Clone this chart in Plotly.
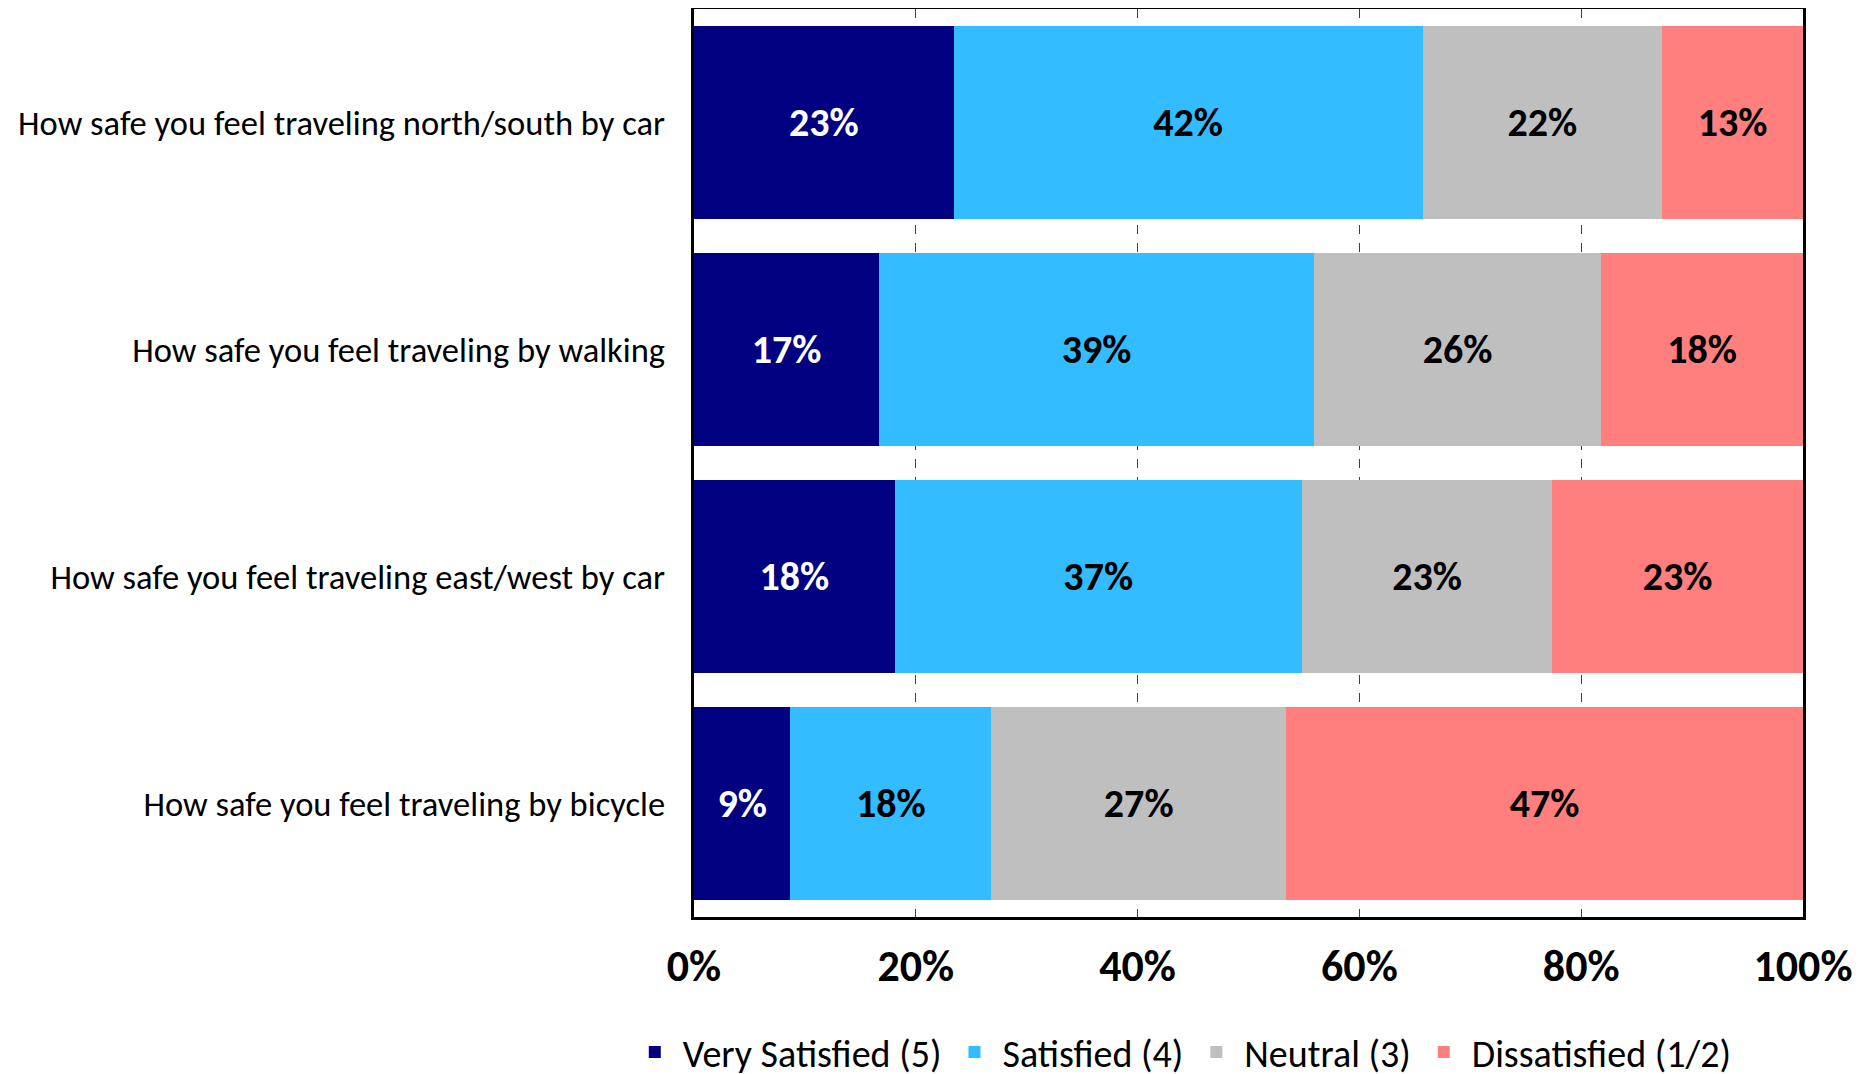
import plotly.graph_objects as go

categories = [
    "How safe you feel traveling north/south by car",
    "How safe you feel traveling by walking",
    "How safe you feel traveling east/west by car",
    "How safe you feel traveling by bicycle",
]
series_names = ["Very Satisfied (5)", "Satisfied (4)", "Neutral (3)", "Dissatisfied (1/2)"]
very_satisfied = [23.4, 16.7, 18.1, 8.7]
satisfied = [42.3, 39.2, 36.7, 18.1]
neutral = [21.6, 25.9, 22.6, 26.6]
dissatisfied = [12.7, 18.2, 22.6, 46.6]
x_ticks = [0, 20, 40, 60, 80, 100]
x_tick_labels = ["0%", "20%", "40%", "60%", "80%", "100%"]

colors = ["#000080", "#33BCFF", "#BFBFBF", "#FF7F7F"]
text_colors = ["white", "black", "black", "black"]
FONT = "Carlito, Calibri, Lato, sans-serif"

fig = go.Figure()
for name, vals, col, tcol in zip(series_names,
                                 [very_satisfied, satisfied, neutral, dissatisfied],
                                 colors, text_colors):
    fig.add_trace(go.Bar(
        y=categories, x=vals, name=name, orientation="h",
        marker=dict(color=col, line=dict(width=0)),
        text=[f"{v:.0f}%" for v in vals],
        textposition="inside", insidetextanchor="middle",
        textfont=dict(family=FONT, size=40, color=tcol, weight="bold"),
        hoverinfo="skip",
    ))

fig.update_layout(
    barmode="stack", bargap=0.15,
    width=1874, height=1074,
    margin=dict(l=686, r=79, t=1, b=165, autoexpand=False),
    plot_bgcolor="white", paper_bgcolor="white",
    font=dict(family=FONT, color="black"),
    uniformtext=dict(mode=False),
    legend=dict(orientation="h", x=-0.0606, xanchor="left", y=-0.149, yanchor="middle",
                font=dict(size=38, family=FONT), traceorder="normal",
                itemwidth=46, itemsizing="constant"),
)
fig.update_xaxes(
    range=[0, 100], tickvals=x_ticks, ticktext=x_tick_labels,
    tickfont=dict(size=44, family=FONT, weight="bold"),
    showgrid=True, gridcolor="#404040", griddash="dash", gridwidth=1,
    showline=True, linecolor="black", linewidth=3, mirror=True,
    zeroline=False, ticks="", ticklabelstandoff=8, automargin=False,
)
fig.update_yaxes(
    autorange="reversed", tickfont=dict(size=34.5, family=FONT),
    showline=True, linecolor="black", linewidth=3, mirror=True,
    showgrid=False, ticks="", ticklabelstandoff=19, automargin=False,
)

fig.write_html("out.html")
